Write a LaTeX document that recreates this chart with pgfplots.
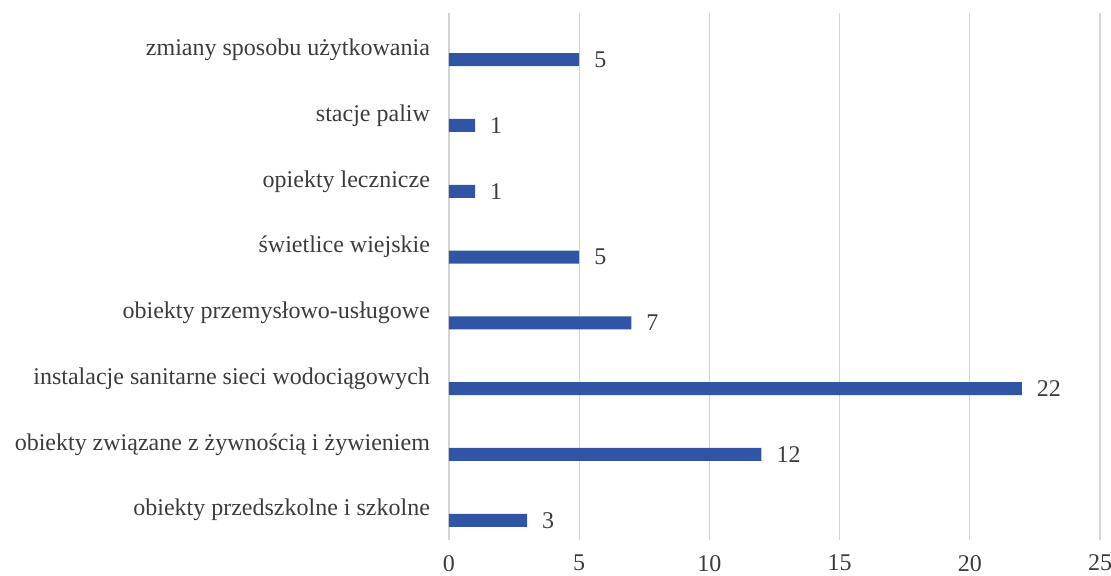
\documentclass[border=0pt]{standalone}
\usepackage{pgfplots}
\pgfplotsset{compat=1.18}
\usepackage{fontspec}
\setmainfont{Liberation Serif}
\definecolor{barblue}{HTML}{2F55A4}
\definecolor{txt}{HTML}{3C3C3C}
\definecolor{gridc}{HTML}{D4D4D4}
\begin{document}
\begin{tikzpicture}
\begin{axis}[
    xbar, bar width=6.5pt,
    scale only axis, width=325.5pt, height=263.5pt,
    xmin=0, xmax=25, ymin=-0.3, ymax=7.71,
    xtick={0,5,10,15,20,25},
    ytick={0,1,2,3,4,5,6,7},
    yticklabels={obiekty przedszkolne i szkolne,
                 obiekty związane z żywnością i żywieniem,
                 instalacje sanitarne sieci wodociągowych,
                 obiekty przemysłowo-usługowe,
                 świetlice wiejskie,
                 opiekty lecznicze,
                 stacje paliw,
                 zmiany sposobu użytkowania},
    axis line style={draw=none},
    major tick length=0pt,
    xmajorgrids, grid style={gridc, line width=0.6pt},
    tick label style={font=\fontsize{12}{14}\selectfont, text=txt},
    yticklabel style={yshift=5pt, xshift=-6pt},
    xticklabel style={yshift=-4pt},
    /pgf/number format/assume math mode=true,
    nodes near coords,
    nodes near coords style={font=\fontsize{12}{14}\selectfont, text=txt, xshift=4pt},
    clip=false,
]
\addplot[fill=barblue, draw=none] coordinates {(3,0)(12,1)(22,2)(7,3)(5,4)(1,5)(1,6)(5,7)};
\coordinate (bl) at (rel axis cs:0,0);
\coordinate (tr) at (rel axis cs:1,1);
\end{axis}
\pgfresetboundingbox
\path ([xshift=-224.5pt,yshift=-18pt]bl) rectangle ([xshift=5.5pt,yshift=6.5pt]tr);
\end{tikzpicture}
\end{document}
